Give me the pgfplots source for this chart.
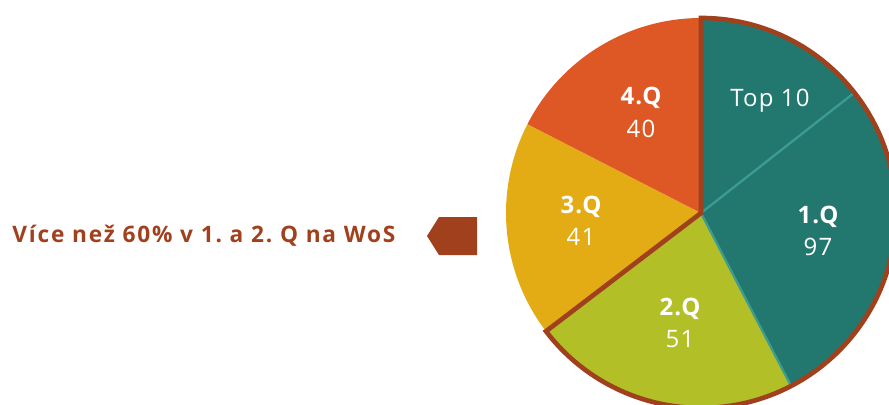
\documentclass[border=0pt]{standalone}
\usepackage{pgfplots}
\pgfplotsset{compat=1.18}
\usepackage{fontspec}
\setmainfont[LetterSpace=5]{Open Sans}
\definecolor{cTeal}{HTML}{22786E}
\definecolor{cTealL}{HTML}{3D9C91}
\definecolor{cGreen}{HTML}{B2BF27}
\definecolor{cYellow}{HTML}{E3AC15}
\definecolor{cOrange}{HTML}{DD5824}
\definecolor{cBrown}{HTML}{A0401C}
% data: Top 10 (part of 1.Q), 1.Q total, 2.Q, 3.Q, 4.Q
\def\vTop{33}
\def\vA{97}
\def\vB{51}
\def\vC{41}
\def\vD{40}
\pgfmathsetmacro\vTot{\vA+\vB+\vC+\vD}
\pgfmathsetmacro\aT{90-360*(\vTop/\vTot)}
\pgfmathsetmacro\aA{90-360*(\vA/\vTot)}
\pgfmathsetmacro\aB{\aA-360*(\vB/\vTot)}
\pgfmathsetmacro\aC{\aB-360*(\vC/\vTot)}
\pgfmathsetmacro\aD{\aC-360*(\vD/\vTot)}
\def\R{146.25pt}
\frenchspacing
\begin{document}
\begin{tikzpicture}
\begin{axis}[x=0.75pt,y=0.75pt,y dir=reverse,
  xmin=0,xmax=889,ymin=0,ymax=404,
  hide axis, clip=true]
\coordinate (C) at (axis cs:701,213);
\coordinate (sw) at (axis cs:0,404);
\coordinate (ne) at (axis cs:889,0);
\fill[cTeal] (C) -- ++(90:\R) arc[start angle=90,end angle=\aA,radius=\R] -- cycle;
\fill[cGreen] (C) -- ++(\aA:\R) arc[start angle=\aA,end angle=\aB,radius=\R] -- cycle;
\fill[cYellow] (C) -- ++(\aB:\R) arc[start angle=\aB,end angle=\aC,radius=\R] -- cycle;
\fill[cOrange] (C) -- ++(\aC:\R) arc[start angle=\aC,end angle=\aD,radius=\R] -- cycle;
\draw[cTealL,line width=1.7pt] (C) -- ++(\aT:\R);
\draw[cTealL,line width=1.7pt] (C) -- ++(\aA:\R);
\draw[cBrown,line width=3.5pt,line join=miter] (C) -- ++(90:\R) arc[start angle=90,end angle=\aB,radius=\R] -- cycle;
\fill[cBrown] (axis cs:439,217) -- (axis cs:477,217) -- (axis cs:477,255) -- (axis cs:439,255) -- (axis cs:427,236) -- cycle;
\node[anchor=base west,inner sep=0pt,text=cBrown,font=\fontsize{17}{20}\selectfont\bfseries\addfontfeature{LetterSpace=8}] at (axis cs:12,242) {Více než 60\% v 1. a 2. Q na WoS};
\tikzset{lb/.style={anchor=base,inner sep=0pt,text=white,font=\fontsize{18}{20}\selectfont\bfseries},
         lv/.style={anchor=base,inner sep=0pt,text=white,font=\fontsize{18}{20}\selectfont}}
\node[lv] at (axis cs:770,106) {Top 10};
\node[lb] at (axis cs:818,223) {1.Q};
\node[lv] at (axis cs:818,255) {97};
\node[lb] at (axis cs:680,315) {2.Q};
\node[lv] at (axis cs:680,347) {51};
\node[lb] at (axis cs:581,213) {3.Q};
\node[lv] at (axis cs:581,245) {41};
\node[lb] at (axis cs:641,104) {4.Q};
\node[lv] at (axis cs:641,137) {40};
\end{axis}
\pgfresetboundingbox
\useasboundingbox (sw) rectangle (ne);
\end{tikzpicture}
\end{document}
